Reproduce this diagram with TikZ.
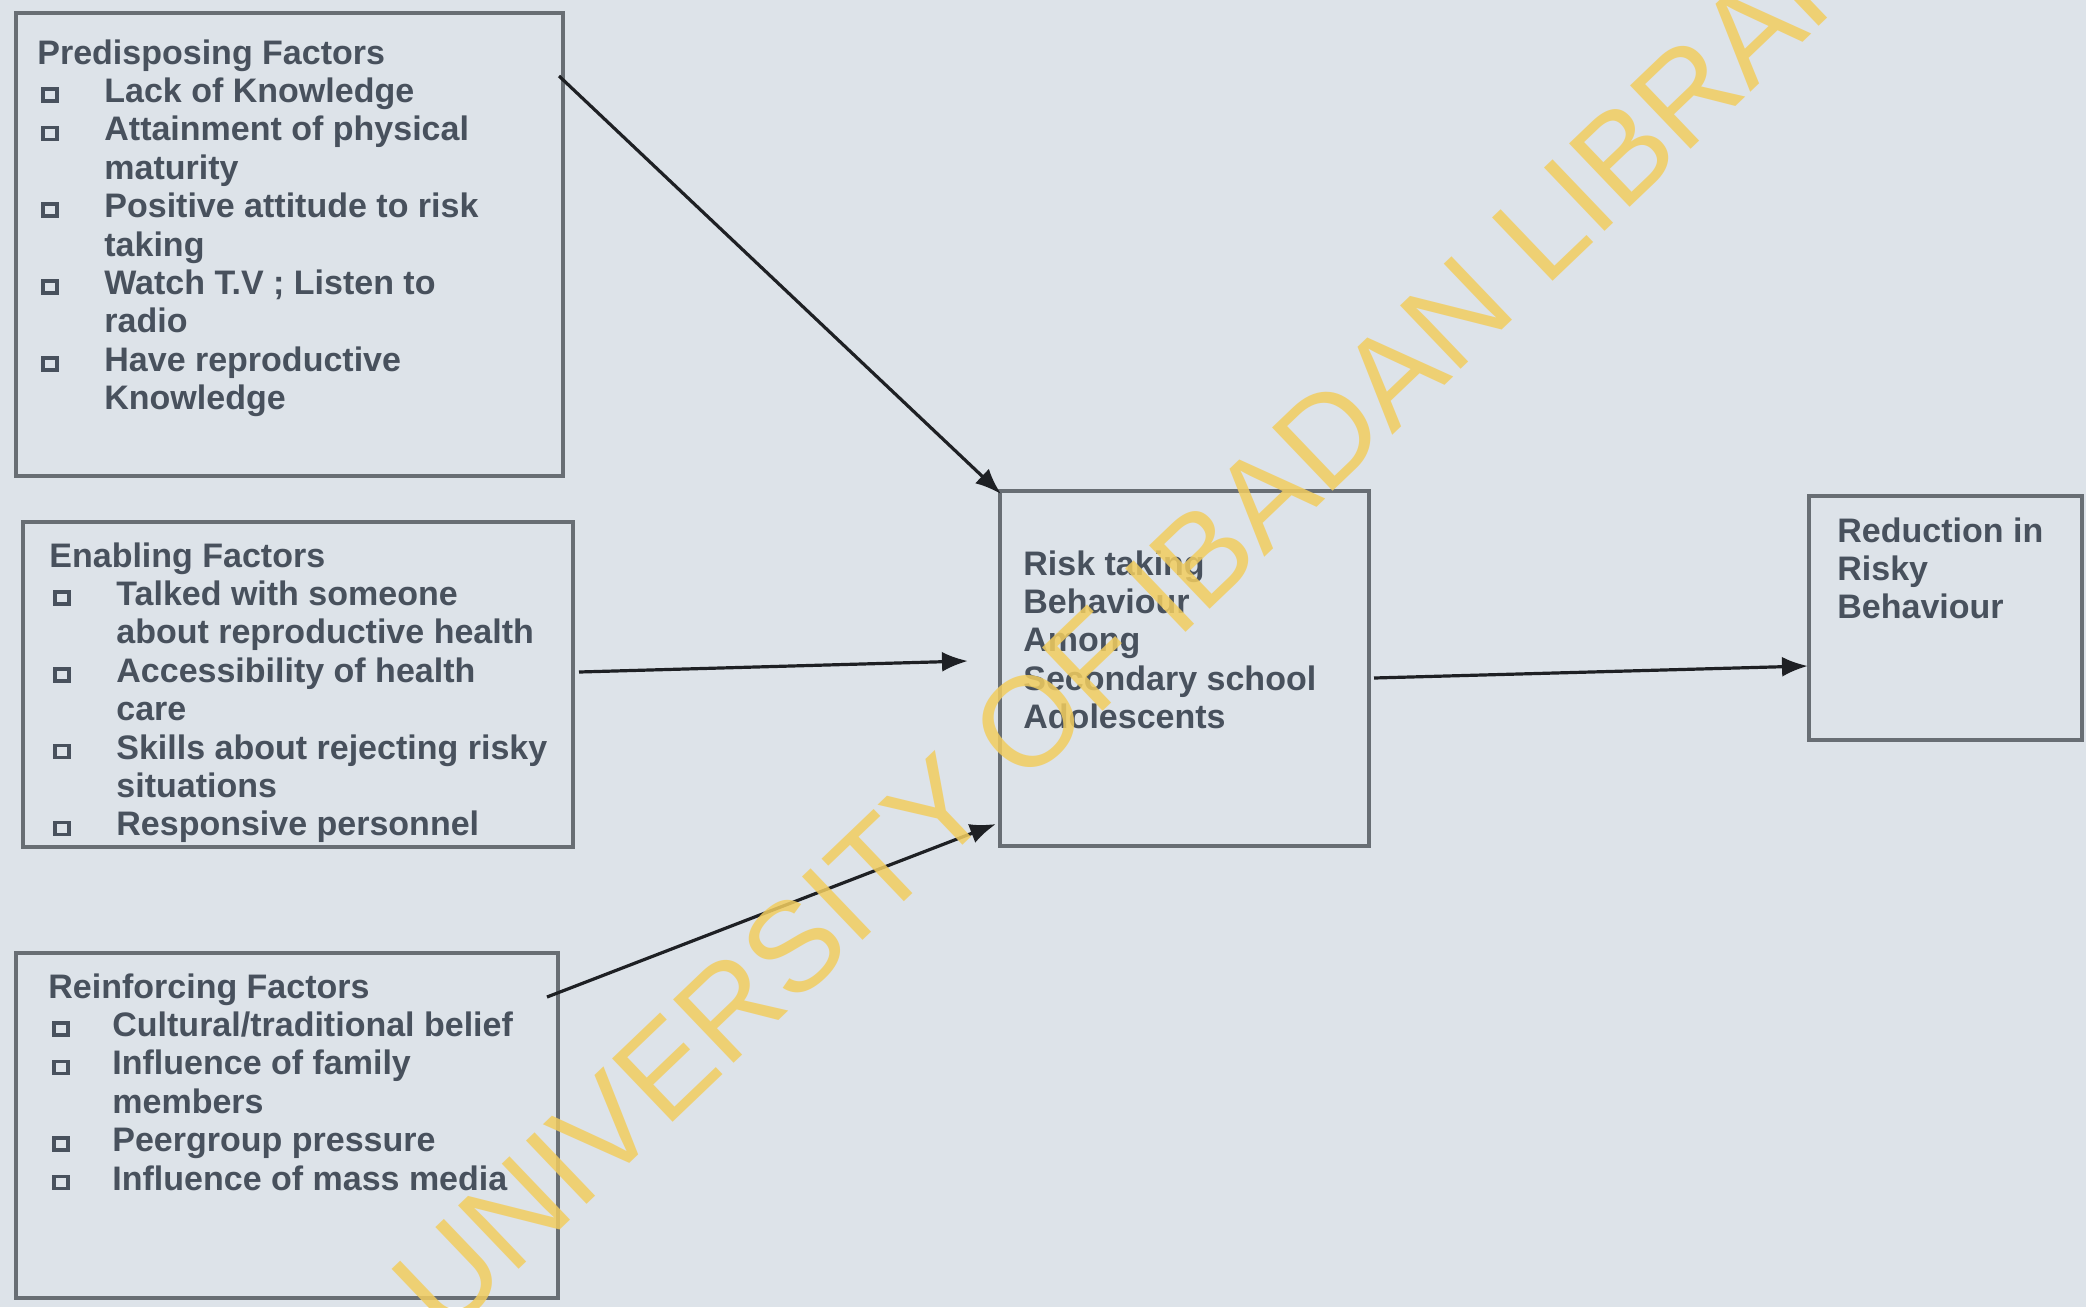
\documentclass[tikz,border=0pt]{standalone}
\usepackage{fontspec}
\setmainfont{Liberation Sans}
\newfontfamily\wmf{Liberation Sans}
\usetikzlibrary{arrows.meta}
\definecolor{bg}{RGB}{221,227,233}
\definecolor{txt}{RGB}{72,81,93}
\definecolor{boxc}{RGB}{104,110,116}
\definecolor{arr}{RGB}{30,32,36}
\definecolor{wmy}{RGB}{242,205,95}
\newcommand\bul{\hspace{2pt}\raisebox{1.6pt}{\setlength\fboxsep{0pt}\setlength\fboxrule{1.8pt}\fbox{\rule{0pt}{4.2pt}\hspace{5pt}}}}
\tikzset{
  boxx/.style={draw=boxc, line width=1.7pt, rectangle, inner sep=0pt},
  txtn/.style={anchor=base west, inner sep=0pt, text=txt, font=\fontsize{17}{19.2}\selectfont\bfseries},
  conn/.style={draw=arr, line width=1.6pt, -{Latex[length=13pt,width=10pt]}}
}
\begin{document}
\begin{tikzpicture}[x=0.5pt,y=-0.5pt]
\path[use as bounding box, fill=bg] (0,0) rectangle (2086,1307);

% boxes
\node[boxx, minimum width=273.5pt, minimum height=231.5pt] (pre) at (289.5,244.5) {};
\node[boxx, minimum width=275pt, minimum height=162.5pt] (ena) at (298,684.5) {};
\node[boxx, minimum width=271pt, minimum height=172.5pt] (rei) at (287,1125.5) {};
\node[boxx, minimum width=184.5pt, minimum height=177.5pt] (cen) at (1184.5,668.5) {};
\node[boxx, minimum width=136.5pt, minimum height=122pt] (red) at (1945.5,618) {};

% texts
\node[txtn] (tpre) at (37,64) {\begin{tabular}[t]{@{}p{33.5pt}@{}l@{}}
\multicolumn{2}{@{}l@{}}{Predisposing Factors}\\
\bul & Lack of Knowledge\\
\bul & Attainment of physical\\
 & maturity\\
\bul & Positive attitude to risk\\
 & taking\\
\bul & Watch T.V ; Listen to\\
 & radio\\
\bul & Have reproductive\\
 & Knowledge
\end{tabular}};

\node[txtn] (tena) at (49,567) {\begin{tabular}[t]{@{}p{33.5pt}@{}l@{}}
\multicolumn{2}{@{}l@{}}{Enabling Factors}\\
\bul & Talked with someone\\
 & about reproductive health\\
\bul & Accessibility of health\\
 & care\\
\bul & Skills about rejecting risky\\
 & situations\\
\bul & Responsive personnel
\end{tabular}};

\node[txtn] (trei) at (48,998) {\begin{tabular}[t]{@{}p{32pt}@{}l@{}}
\multicolumn{2}{@{}l@{}}{Reinforcing Factors}\\
\bul & Cultural/traditional belief\\
\bul & Influence of family\\
 & members\\
\bul & Peergroup pressure\\
\bul & Influence of mass media
\end{tabular}};

\node[txtn] (tcen) at (1023,575) {\begin{tabular}[t]{@{}l@{}}
Risk taking\\
Behaviour\\
Among\\
Secondary school\\
Adolescents
\end{tabular}};

\node[txtn] (tred) at (1837,542) {\begin{tabular}[t]{@{}l@{}}
Reduction in\\
Risky\\
Behaviour
\end{tabular}};

% connector end points
\coordinate (a1s) at (559,76);
\coordinate (a1e) at (1001,494);
\coordinate (a2s) at (579,672);
\coordinate (a2e) at (968,661);
\coordinate (a3s) at (547,997);
\coordinate (a3e) at (996,824);
\coordinate (a4s) at (1374,678);
\coordinate (a4e) at (1808,666);

\draw[conn] (a1s) -- (a1e);
\draw[conn] (a2s) -- (a2e);
\draw[conn] (a3s) -- (a3e);
\draw[conn] (a4s) -- (a4e);

% watermark
\begin{scope}
\clip (0,0) rectangle (2086,1307);
\node[rotate=43.7, anchor=base west, inner sep=0pt, text=wmy, opacity=0.85, font=\wmf\fontsize{63.7}{70}\selectfont] (wm) at (445,1340) {UNIVERSITY OF IBADAN LIBRARY};
\end{scope}
\end{tikzpicture}
\end{document}
